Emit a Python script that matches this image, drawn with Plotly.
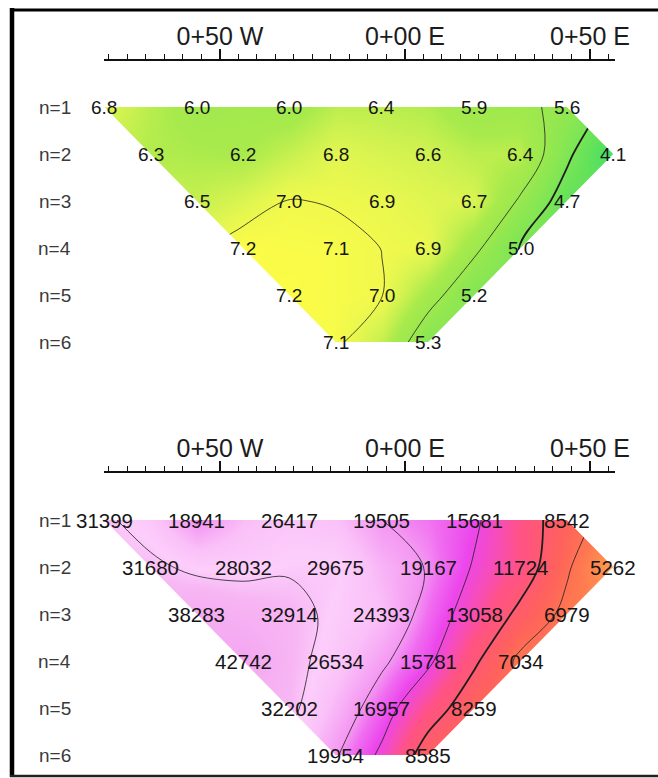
import numpy as np
import plotly.graph_objects as go

# ---------------- data ----------------
row_levels = [1, 2, 3, 4, 5, 6]
row_labels = ["n=1", "n=2", "n=3", "n=4", "n=5", "n=6"]

# plotted station (ft, west negative) and n-level of every pseudosection point
pt_x = [-81.25, -56.25, -31.25, -6.25, 18.75, 43.75,
        -68.75, -43.75, -18.75, 6.25, 31.25, 56.25,
        -56.25, -31.25, -6.25, 18.75, 43.75,
        -43.75, -18.75, 6.25, 31.25,
        -31.25, -6.25, 18.75,
        -18.75, 6.25]
pt_n = [1] * 6 + [2] * 6 + [3] * 5 + [4] * 4 + [5] * 3 + [6] * 2

chargeability = [6.8, 6.0, 6.0, 6.4, 5.9, 5.6,
                 6.3, 6.2, 6.8, 6.6, 6.4, 4.1,
                 6.5, 7.0, 6.9, 6.7, 4.7,
                 7.2, 7.1, 6.9, 5.0,
                 7.2, 7.0, 5.2,
                 7.1, 5.3]
resistivity = [31399, 18941, 26417, 19505, 15681, 8542,
               31680, 28032, 29675, 19167, 11724, 5262,
               38283, 32914, 24393, 13058, 6979,
               42742, 26534, 15781, 7034,
               32202, 16957, 8259,
               19954, 8585]

tick_vals = [-50, 0, 50]
tick_text = ["0+50 W", "0+00 E", "0+50 E"]

ip_levels = [5.05, 5.8, 6.98]
ip_level_widths = [1.8, 0.8, 0.8]
res_levels = [7500, 10000, 15000, 19500, 30000]
res_level_widths = [0.8, 1.8, 0.8, 0.8, 0.8]

# ---------------- styling ----------------
W, H = 658, 778
FONT = "Liberation Sans, Arial, sans-serif"
X_RANGE = [-81.35, 56.76]
X_DOMAIN = [104 / W, 615 / W]

ip_scale = [
    [0.000, "rgb(66,222,104)"],
    [0.194, "rgb(100,226,90)"],
    [0.355, "rgb(130,230,84)"],
    [0.548, "rgb(155,232,78)"],
    [0.677, "rgb(168,234,76)"],
    [0.742, "rgb(188,238,78)"],
    [0.806, "rgb(208,242,80)"],
    [0.871, "rgb(226,246,80)"],
    [0.935, "rgb(242,249,76)"],
    [1.000, "rgb(252,252,70)"],
]
res_scale = [
    [0.000, "rgb(255,160,80)"],
    [0.136, "rgb(255,120,80)"],
    [0.230, "rgb(255,98,92)"],
    [0.384, "rgb(255,82,135)"],
    [0.438, "rgb(248,78,180)"],
    [0.515, "rgb(236,70,236)"],
    [0.581, "rgb(240,110,240)"],
    [0.625, "rgb(244,150,242)"],
    [0.735, "rgb(250,192,248)"],
    [0.812, "rgb(252,206,251)"],
    [0.867, "rgb(247,182,244)"],
    [1.000, "rgb(244,165,240)"],
]

fig = go.Figure()

panels = [
    dict(xa="x", ya="y", n1_px=107, top_px=61, bot_px=362,
         z=chargeability, zlog=False, scale=ip_scale,
         levels=ip_levels, widths=ip_level_widths, fsize=19,
         labels=[f"{v:.1f}" for v in chargeability]),
    dict(xa="x2", ya="y2", n1_px=520, top_px=473, bot_px=770,
         z=resistivity, zlog=True, scale=res_scale,
         levels=res_levels, widths=res_level_widths, fsize=20.5,
         labels=[f"{v:d}" for v in resistivity]),
]
ROW_PX = 47.0

x_arr = np.array(pt_x)
n_arr = np.array(pt_n)

for p in panels:
    zvals = np.array(p["z"], dtype=float)
    zc = np.log10(zvals) if p["zlog"] else zvals
    zmin, zmax = zc.min(), zc.max()
    # colour surface
    fig.add_trace(go.Contour(
        x=pt_x, y=pt_n, z=zc, xaxis=p["xa"], yaxis=p["ya"],
        connectgaps=True, colorscale=p["scale"], zmin=zmin, zmax=zmax,
        contours=dict(coloring="heatmap", showlines=False),
        line=dict(width=0), showscale=False, hoverinfo="skip"))
    # contour lines
    for lev, lw in zip(p["levels"], p["widths"]):
        lv = np.log10(lev) if p["zlog"] else lev
        fig.add_trace(go.Contour(
            x=pt_x, y=pt_n, z=zc, xaxis=p["xa"], yaxis=p["ya"],
            connectgaps=True,
            contours=dict(coloring="none", start=lv, end=lv, size=1,
                          showlines=True),
            line=dict(color="#1e1e1e", width=lw, smoothing=1.0),
            showscale=False, hoverinfo="skip"))

    # white mask (outer box with the data hull cut out, even-odd fill)
    n_top, n_bot = n_arr.min(), n_arr.max()
    y_top = 1 + (p["top_px"] - p["n1_px"]) / ROW_PX
    y_bot = 1 + (p["bot_px"] - p["n1_px"]) / ROW_PX
    tl = x_arr[n_arr == n_top].min()
    tr = x_arr[n_arr == n_top].max()
    bl = x_arr[n_arr == n_bot].min()
    br = x_arr[n_arr == n_bot].max()
    tip_x = x_arr.max()
    tip_n = n_arr[x_arr == tip_x].min()
    ox0, ox1 = X_RANGE[0] - 10, X_RANGE[1] + 10
    oy0, oy1 = n_top - 0.7, n_bot + 0.7
    hull = [(tl, n_top), (tr, n_top), (tip_x, tip_n), (br, n_bot), (bl, n_bot)]
    path = (f"M{ox0},{oy0} L{ox1},{oy0} L{ox1},{oy1} L{ox0},{oy1} Z "
            + "M" + " L".join(f"{a},{b}" for a, b in hull) + " Z")
    fig.add_shape(type="path", path=path, xref=p["xa"], yref=p["ya"],
                  fillcolor="white", fillrule="evenodd",
                  line=dict(width=0), layer="above")

    # value labels
    for xv, nv, lab in zip(pt_x, pt_n, p["labels"]):
        fig.add_annotation(x=xv, y=nv, xref=p["xa"], yref=p["ya"], text=lab,
                           showarrow=False, xanchor="center", yanchor="middle",
                           font=dict(family=FONT, size=p["fsize"],
                                     color="#161616"))

    # row labels
    for lvl, lab in zip(row_levels, row_labels):
        fig.add_annotation(x=54.5 / W, xref="paper", y=lvl, yref=p["ya"],
                           text=lab, showarrow=False, xanchor="center",
                           yanchor="middle",
                           font=dict(family=FONT, size=19, color="#3a3a3a"))

    p["yrange"] = [y_bot, y_top]
    p["ydomain"] = [1 - p["bot_px"] / H, 1 - p["top_px"] / H]

xaxis_common = dict(
    range=X_RANGE, domain=X_DOMAIN, side="top", showgrid=False,
    zeroline=False, showline=True, linecolor="#111", linewidth=2,
    ticks="outside", ticklen=10, tickwidth=1.5, tickcolor="#111",
    tickvals=tick_vals, ticktext=tick_text, ticklabelstandoff=-6,
    tickfont=dict(family=FONT, size=25, color="#1c1c1c"),
    minor=dict(dtick=5, tick0=0, ticks="outside", ticklen=5, tickwidth=1.3,
               tickcolor="#111", showgrid=False),
    fixedrange=True, automargin=False,
)
yaxis_common = dict(visible=False, showgrid=False, zeroline=False,
                    fixedrange=True)

fig.update_layout(
    width=W, height=H, autosize=False, margin=dict(l=0, r=0, t=0, b=0),
    paper_bgcolor="white", plot_bgcolor="white", showlegend=False,
    xaxis=dict(**xaxis_common, anchor="y"),
    xaxis2=dict(**xaxis_common, anchor="y2"),
    yaxis=dict(**yaxis_common, anchor="x", range=panels[0]["yrange"],
               domain=panels[0]["ydomain"]),
    yaxis2=dict(**yaxis_common, anchor="x2", range=panels[1]["yrange"],
                domain=panels[1]["ydomain"]),
    font=dict(family=FONT),
)

# outer frame
fig.add_shape(type="line", xref="paper", yref="paper", x0=12 / W, x1=12 / W,
              y0=1 - 777 / H, y1=1 - 8 / H, line=dict(color="black", width=4.5))
fig.add_shape(type="line", xref="paper", yref="paper", x0=10 / W, x1=1.01,
              y0=1 - 10 / H, y1=1 - 10 / H, line=dict(color="black", width=3))
fig.add_shape(type="line", xref="paper", yref="paper", x0=10 / W, x1=1.01,
              y0=1 - 776 / H, y1=1 - 776 / H, line=dict(color="#222", width=2.5))

fig.write_html(
    "out.html",
    config={"responsive": False, "displayModeBar": False},
    post_script=("document.documentElement.style.overflow='hidden';"
                 "document.body.style.overflow='hidden';"
                 "document.body.style.margin='0';"),
)
